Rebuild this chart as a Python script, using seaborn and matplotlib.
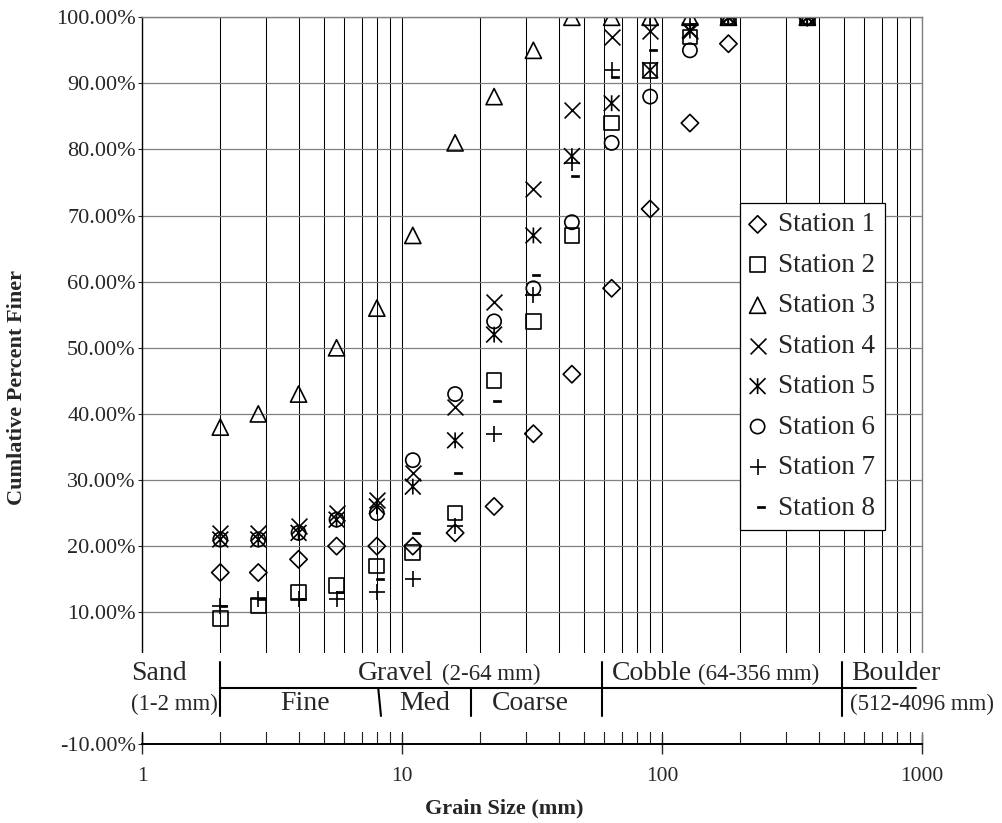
import pandas as pd
import numpy as np
import matplotlib
matplotlib.use("Agg")
import matplotlib.pyplot as plt
import matplotlib.transforms as mtransforms
import seaborn as sns
from matplotlib.path import Path
from matplotlib.patches import Rectangle
from matplotlib.ticker import FixedLocator, LogLocator, FuncFormatter, NullFormatter

# sieve sizes (mm) and cumulative percent finer per station
grain_size = [2, 2.8, 4, 5.6, 8, 11, 16, 22.6, 32, 45, 64, 90, 128, 180, 362]
station_1 = [16, 16, 18, 20, 20, 20, 22, 26, 37, 46, 59, 71, 84, 96, 100]
station_2 = [9, 11, 13, 14, 17, 19, 25, 45, 54, 67, 84, 92, 97, 100, 100]
station_3 = [38, 40, 43, 50, 56, 67, 81, 88, 95, 100, 100, 100, 100, 100, 100]
station_4 = [22, 22, 23, 25, 27, 31, 41, 57, 74, 86, 97, 98, 98, 100, 100]
station_5 = [21, 21, 22, 24, 26, 29, 36, 52, 67, 79, 87, 92, 98, 100, 100]
station_6 = [21, 21, 22, 24, 25, 33, 43, 54, 59, 69, 81, 88, 95, 100, 100]
station_7 = [11, 12, 12, 12, 13, 15, 23, 37, 58, 78, 92, 100, 99, 100, 100]
station_8 = [11, 12, 12, 13, 15, 22, 31, 42, 61, 76, 91, 95, 99, 100, 100]
station_names = ["Station 1", "Station 2", "Station 3", "Station 4",
                 "Station 5", "Station 6", "Station 7", "Station 8"]
y_ticks = [-10, 10, 20, 30, 40, 50, 60, 70, 80, 90, 100]
x_ticks = [1, 10, 100, 1000]

rows = []
for name, vals in zip(station_names, [station_1, station_2, station_3, station_4,
                                      station_5, station_6, station_7, station_8]):
    for g, v in zip(grain_size, vals):
        rows.append({"Station": name, "Grain Size": g, "Percent Finer": v})
df = pd.DataFrame(rows)

sns.set_style("white")
plt.rcParams["font.family"] = ["Liberation Serif", "DejaVu Serif"]

# custom marker shapes (Excel-like)
M, L, C = Path.MOVETO, Path.LINETO, Path.CLOSEPOLY
tri = Path([(-1, -1), (1, -1), (0, 1), (-1, -1)], [M, L, L, C])
star = Path([(-1, -1), (1, 1), (-1, 1), (1, -1), (0, -1), (0, 1)], [M, L, M, L, M, L])
dash = Path([(-0.2, -0.17), (1, -0.17), (1, 0.17), (-0.2, 0.17), (-0.2, -0.17)], [M, L, L, L, C])

open_kw = dict(facecolor="none", edgecolor="black", linewidth=1.2)
styles = [
    dict(marker="D", s=78, **open_kw),
    dict(marker="s", s=112, **open_kw),
    dict(marker=tri, s=135, **open_kw),
    dict(marker="x", s=130, linewidth=1.2),
    dict(marker=star, s=130, **open_kw),
    dict(marker="o", s=105, **open_kw),
    dict(marker="+", s=140, linewidth=1.2),
    dict(marker=dash, s=115, facecolor="black", edgecolor="black", linewidth=0.5),
]

fig = plt.figure(figsize=(10.03, 8.23), dpi=100)
ax = fig.add_axes([0.1416, 0.0955, 0.7777, 0.8835])

for (name, sub), st in zip(df.groupby("Station", sort=False), styles):
    sns.scatterplot(data=sub, x="Grain Size", y="Percent Finer", ax=ax,
                    color="black", label=name, zorder=2, **st)

ax.set_xscale("log")
ax.set_xlim(1, 1000)
ax.set_ylim(-10, 100)
ax.xaxis.set_major_locator(FixedLocator(x_ticks))
ax.xaxis.set_minor_locator(LogLocator(base=10, subs=range(2, 10)))
ax.xaxis.set_minor_formatter(NullFormatter())
ax.xaxis.set_major_formatter(FuncFormatter(lambda v, _: f"{v:g}"))
ax.set_yticks(y_ticks)
ax.yaxis.set_major_formatter(FuncFormatter(lambda v, _: f"{v:.2f}%"))

ax.grid(True, which="both", axis="x", color="black", linewidth=0.75)
ax.grid(True, which="major", axis="y", color="#808080", linewidth=0.9)
ax.set_axisbelow(True)

ax.tick_params(axis="x", which="major", direction="inout", length=14, width=1,
               pad=9, labelsize=15.5, bottom=True)
ax.tick_params(axis="x", which="minor", direction="in", length=9, width=0.8, bottom=True)
ax.tick_params(axis="y", which="major", direction="out", length=3, width=0.8,
               pad=1.5, labelsize=16, left=True)

for side in ["top", "right"]:
    ax.spines[side].set_color("#808080")
    ax.spines[side].set_linewidth(1)
ax.spines["left"].set_color("black")
ax.spines["left"].set_linewidth(1)
ax.spines["bottom"].set_color("black")
ax.spines["bottom"].set_linewidth(1.4)

# white band holding the size classification
trans = mtransforms.blended_transform_factory(ax.transAxes, ax.transData)
ax.add_patch(Rectangle((-0.01, -8.12), 1.02, 11.95, transform=trans,
                       facecolor="white", edgecolor="none", zorder=3, clip_on=False))

row1, row2, mid = -0.26, -4.8, -1.51
big, small = 20, 16.5
tk = dict(va="baseline", zorder=4)
ax.text(0.907, row1, "Sand", ha="left", fontsize=big, **tk)
ax.text(0.907, row2, "(1-2 mm)", ha="left", fontsize=small, **tk)
ax.text(6.77, row1, "Gravel", ha="left", fontsize=big, **tk)
ax.text(14.2, row1, "(2-64 mm)", ha="left", fontsize=small, **tk)
ax.text(4.24, row2, "Fine", ha="center", fontsize=big, **tk)
ax.text(12.25, row2, "Med", ha="center", fontsize=big, **tk)
ax.text(31.07, row2, "Coarse", ha="center", fontsize=big, **tk)
ax.text(64.05, row1, "Cobble", ha="left", fontsize=big, **tk)
ax.text(137.9, row1, "(64-356 mm)", ha="left", fontsize=small, **tk)
ax.text(531.8, row1, "Boulder", ha="left", fontsize=big, **tk)
ax.text(528.5, row2, "(512-4096 mm)", ha="left", fontsize=small, **tk)

lk = dict(color="black", linewidth=1.5, clip_on=False, zorder=4)
ax.plot([2, 950], [mid, mid], **lk)
for xb in [2, 59, 494]:
    ax.plot([xb, xb], [2.51, -5.7], **lk)
ax.plot([8.1, 8.3], [mid, -5.7], **lk)
ax.plot([18.4, 18.4], [mid, -5.7], **lk)

ax.set_xlabel("Grain Size (mm)", fontsize=16, fontweight="bold", va="center")
ax.xaxis.set_label_coords(0.465, -0.0875)
ax.set_ylabel("Cumlative Percent Finer", fontsize=16, fontweight="bold", va="center")
ax.yaxis.set_label_coords(-0.160, 0.4915)

leg = ax.legend(loc="upper left", bbox_to_anchor=(740 / 1003, 1 - 203 / 823),
                bbox_transform=fig.transFigure, frameon=True, fancybox=False,
                edgecolor="black", framealpha=1, fontsize=19.5, handlelength=0.6,
                handletextpad=0.45, labelspacing=0.57, borderpad=0.35,
                borderaxespad=0, scatterpoints=1)
leg.get_frame().set_linewidth(0.9)
leg.set_zorder(5)

fig.savefig("out.png", dpi=100)
